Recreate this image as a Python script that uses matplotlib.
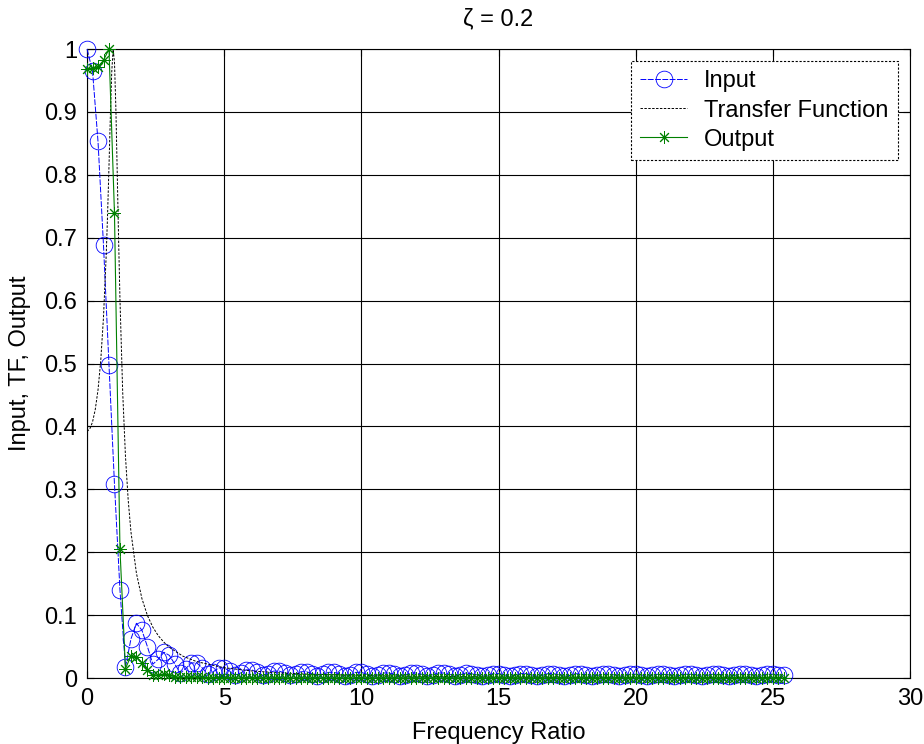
import matplotlib
matplotlib.use('Agg')
import matplotlib.pyplot as plt
import numpy as np

plt.rcParams['font.family'] = ['Liberation Sans', 'DejaVu Sans']

# frequency ratio grid of the sampled spectra (0.2 step, 128 points)
freq = np.round(np.arange(128) * 0.2, 1)

input_amp = [
    1.000, 0.965, 0.853, 0.688, 0.497, 0.308, 0.140, 0.017, 0.062, 0.087,
    0.076, 0.050, 0.022, 0.030, 0.041, 0.036, 0.022, 0.008, 0.015, 0.024,
    0.024, 0.016, 0.006, 0.010, 0.016, 0.016, 0.011, 0.005, 0.008, 0.013,
    0.013, 0.009, 0.004, 0.007, 0.011, 0.011, 0.008, 0.004, 0.006, 0.010,
    0.010, 0.007, 0.003, 0.006, 0.009, 0.009, 0.007, 0.003, 0.005, 0.009,
    0.009, 0.006, 0.003, 0.005, 0.008, 0.008, 0.006, 0.003, 0.005, 0.008,
    0.008, 0.006, 0.003, 0.005, 0.008, 0.008, 0.006, 0.003, 0.005, 0.008,
    0.007, 0.005, 0.003, 0.004, 0.007, 0.007, 0.005, 0.003, 0.004, 0.007,
    0.007, 0.005, 0.003, 0.004, 0.007, 0.007, 0.005, 0.003, 0.004, 0.007,
    0.006, 0.005, 0.003, 0.004, 0.006, 0.006, 0.005, 0.003, 0.004, 0.006,
    0.006, 0.005, 0.003, 0.004, 0.006, 0.006, 0.005, 0.003, 0.004, 0.006,
    0.006, 0.005, 0.003, 0.004, 0.006, 0.006, 0.005, 0.003, 0.004, 0.006,
    0.006, 0.005, 0.003, 0.004, 0.006, 0.006, 0.005, 0.004,
]

output_amp = [
    0.968, 0.970, 0.972, 0.982, 1.000, 0.739, 0.205, 0.015, 0.035, 0.034,
    0.024, 0.012, 0.005, 0.005, 0.006, 0.004, 0.002, 0.001, 0.001, 0.002,
    0.0015, 0.001, 0.0003, 0.0005, 0.0008, 0.0007, 0.0004, 0.0002, 0.0003, 0.0004,
    0.0004, 0.0003, 0.0001, 0.0002, 0.0003, 0.0003, 0.0002, 0.0001, 0.0001, 0.0002,
    0.0002, 0.0001, 0.0001, 0.0001, 0.0002, 0.0002, 0.0001, 0.0, 0.0001, 0.0001,
    0.0001, 0.0001, 0.0, 0.0001, 0.0001, 0.0001, 0.0001, 0.0, 0.0, 0.0001,
    0.0001, 0.0, 0.0, 0.0, 0.0001, 0.0001, 0.0, 0.0, 0.0, 0.0001,
    0.0, 0.0, 0.0, 0.0, 0.0, 0.0, 0.0, 0.0, 0.0, 0.0,
    0.0, 0.0, 0.0, 0.0, 0.0, 0.0, 0.0, 0.0, 0.0, 0.0,
    0.0, 0.0, 0.0, 0.0, 0.0, 0.0, 0.0, 0.0, 0.0, 0.0,
    0.0, 0.0, 0.0, 0.0, 0.0, 0.0, 0.0, 0.0, 0.0, 0.0,
    0.0, 0.0, 0.0, 0.0, 0.0, 0.0, 0.0, 0.0, 0.0, 0.0,
    0.0, 0.0, 0.0, 0.0, 0.0, 0.0, 0.0, 0.0,
]

# transfer function (normalised), finer sampling near resonance
tf_freq = [0.0, 0.1, 0.2, 0.3, 0.4, 0.5, 0.6, 0.7, 0.75, 0.8, 0.85, 0.9, 0.95,
           1.0, 1.05, 1.1, 1.15, 1.2, 1.3, 1.4, 1.5, 1.6, 1.8, 2.0, 2.2, 2.4,
           2.6, 2.8, 3.0, 3.5, 4.0, 5.0, 6.0, 7.0, 8.0, 10.0, 12.0, 15.0,
           20.0, 25.4]
tf_amp = [0.392, 0.396, 0.407, 0.427, 0.458, 0.505, 0.574, 0.674, 0.739, 0.814,
          0.893, 0.963, 0.999, 0.980, 0.907, 0.804, 0.698, 0.602, 0.454, 0.353,
          0.283, 0.2325, 0.1666, 0.1263, 0.0995, 0.0807, 0.0671, 0.057, 0.0488,
          0.0346, 0.026, 0.0163, 0.0112, 0.0082, 0.0062, 0.0040, 0.0027,
          0.0017, 0.001, 0.0006]

fig = plt.figure(figsize=(9.24, 7.44), dpi=100)
ax = fig.add_axes([0.0942, 0.0887, 0.8907, 0.8454])

ax.plot(freq, input_amp, color='#0000ff', linestyle=(0, (6, 1.5)), linewidth=0.7,
        marker='o', markersize=12, markerfacecolor='none', markeredgecolor='#0000ff',
        markeredgewidth=0.6, label='Input', clip_on=False, zorder=3)
ax.plot(tf_freq, tf_amp, color='black', linestyle=(0, (2.5, 1.5)), linewidth=0.7,
        label='Transfer Function', zorder=3)
ax.plot(freq, output_amp, color='#008000', linestyle='-', linewidth=0.8,
        marker=(8, 2, 0), markersize=9, markeredgecolor='#008000',
        markeredgewidth=0.7, label='Output', clip_on=False, zorder=4)

ax.set_xlim(0, 30)
ax.set_ylim(0, 1)
ax.set_xticks(np.arange(0, 31, 5))
ax.set_yticks(np.round(np.arange(0, 1.01, 0.1), 1))
ax.set_yticklabels(['0', '0.1', '0.2', '0.3', '0.4', '0.5', '0.6', '0.7', '0.8', '0.9', '1'])
ax.grid(True, color='black', linewidth=0.8, linestyle='-')
ax.set_axisbelow(True)
ax.tick_params(direction='in', length=5, labelsize=17, top=True, right=True, pad=7)
for s in ax.spines.values():
    s.set_color('black')
    s.set_linewidth(0.8)

ax.set_xlabel('Frequency Ratio', fontsize=17, labelpad=9)
ax.set_ylabel('Input, TF, Output', fontsize=17, labelpad=10)
ax.set_title('\u03b6 = 0.2', fontsize=17, pad=17)

leg = ax.legend(loc='upper right', bbox_to_anchor=(0.985, 0.981), borderaxespad=0,
                fontsize=17, fancybox=False, framealpha=1, edgecolor='black',
                numpoints=1, handlelength=2.0, handletextpad=0.7,
                borderpad=0.4, labelspacing=0.3)
leg.get_frame().set_linestyle((0, (2, 1.5)))
leg.get_frame().set_linewidth(0.8)

fig.savefig('out.png', dpi=100)
